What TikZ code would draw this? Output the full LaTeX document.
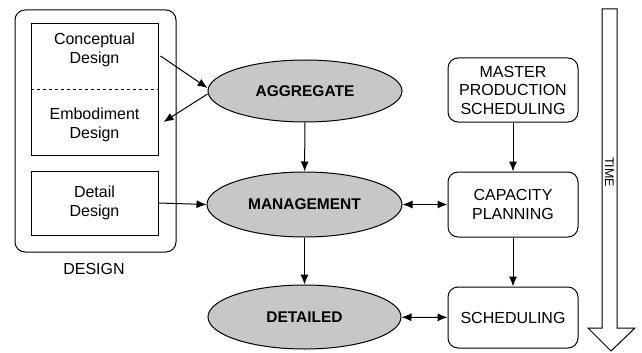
\documentclass[tikz,border=0pt]{standalone}
\usepackage{fontspec}
\setmainfont{Liberation Sans}
\usetikzlibrary{shapes.geometric,arrows.meta}

\begin{document}
\begin{tikzpicture}[x=1pt,y=-1pt,line width=1pt,
  font=\fontsize{16}{18.5}\selectfont,
  >={Latex[length=10pt,width=8pt]}]
\useasboundingbox (0,0) rectangle (642,353);
 % design side
 \begin{scope}[every node/.style={draw, align=center, inner sep=0pt}]
  \node[rounded corners=10pt, minimum width=161pt, minimum height=242pt] (design) at (95.5,131) {};
  \node[minimum width=127pt, minimum height=131pt] (upper) at (94.5,89.5) {};
  \node[minimum width=127pt, minimum height=64pt] (detail) at (94.5,203) {Detail\\Design};
 \end{scope}
 \begin{scope}[every node/.style={align=center, inner sep=0pt}]
  \node[minimum width=131pt] (concept) at (94.5,50) {Conceptual\\Design};
  \node[minimum width=137pt] (embod) at (94.5,125) {Embodiment\\Design};
  \node (label) at (94,269) {DESIGN};
 \end{scope}
 \draw[dashed] (upper.west) -- (upper.east);
 % planning levels
 \begin{scope}[every node/.style={draw, ellipse, fill=black!22, inner sep=0pt,
   font=\fontsize{15.5}{17}\selectfont\bfseries}]
  \node[minimum width=194pt, minimum height=62pt] (agg) at (305,91) {AGGREGATE};
  \node[minimum width=195pt, minimum height=65pt] (mgmt) at (304.5,204.5) {MANAGEMENT};
  \node[minimum width=193pt, minimum height=64pt] (det) at (304.5,317) {DETAILED};
 \end{scope}
 % production side
 \begin{scope}[every node/.style={draw, rounded corners=10pt, align=center,
   inner sep=0pt, minimum width=130pt}]
  \node[minimum height=64pt] (mps) at (513,90) {MASTER\\PRODUCTION\\SCHEDULING};
  \node[minimum height=65pt] (cap) at (513,204.5) {CAPACITY\\PLANNING};
  \node[minimum height=61pt] (sched) at (513,317.5) {SCHEDULING};
 \end{scope}
  \path [->] ([yshift=-6pt]concept.east) edge ([yshift=3pt]agg.west);
  \path [->] ([yshift=-3pt]agg.west) edge ([yshift=3pt]embod.east);
  \path [->] (detail.east) edge (mgmt.west);
  \path [->] (agg) edge (mgmt);
  \path [->] (mgmt) edge (det);
  \path [->] (mps) edge (cap);
  \path [->] (cap) edge (sched);
  \path [<->] (mgmt) edge (cap);
  \path [<->] (det) edge (sched);
 % time arrow
 \draw (602,9) -- (617,9) -- (617,328) -- (635,328) -- (611,351)
   -- (588,328) -- (602,328) -- cycle;
 \node[rotate=-90, font=\fontsize{12.5}{14}\selectfont] (time) at (609.5,172) {TIME};
\end{tikzpicture}
\end{document}
